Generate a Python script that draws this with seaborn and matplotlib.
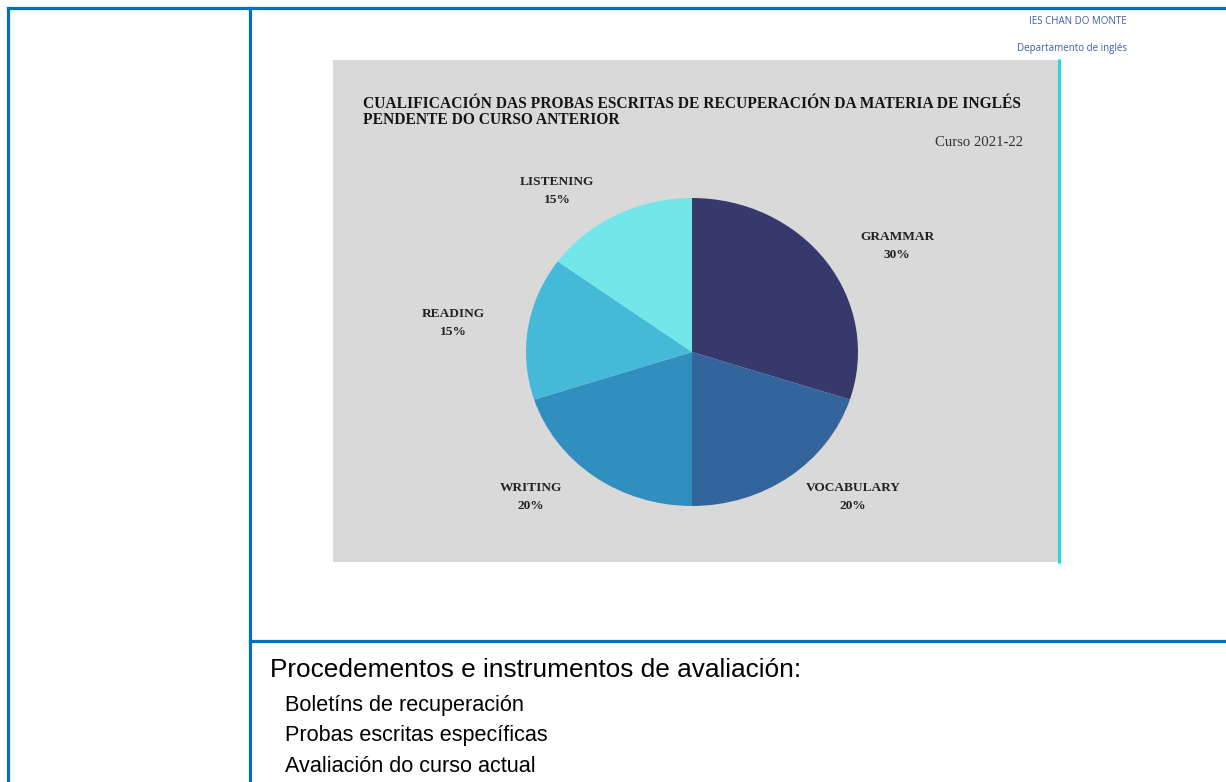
import matplotlib
matplotlib.use("Agg")
import matplotlib.pyplot as plt
import seaborn as sns
from matplotlib.patches import Rectangle
from matplotlib.lines import Line2D

# ---- data ----
categories = ["GRAMMAR", "VOCABULARY", "WRITING", "READING", "LISTENING"]
values = [30, 20, 20, 15, 15]
colors = ["#37396D", "#33649B", "#318FC0", "#45BAD8", "#73E6EA"]
title = "CUALIFICACIÓN DAS PROBAS ESCRITAS DE RECUPERACIÓN DA MATERIA DE INGLÉS\nPENDENTE DO CURSO ANTERIOR"
subtitle = "Curso 2021-22"
header_lines = ["IES CHAN DO MONTE", "Departamento de inglés"]
body_heading = "Procedementos e instrumentos de avaliación:"
body_items = ["Boletíns de recuperación", "Probas escritas específicas", "Avaliación do curso actual"]

# label positions (data coords relative to pie centre)
label_xy = [(1.235, 0.688), (0.97, -0.942), (-0.97, -0.942), (-1.44, 0.188), (-0.813, 1.045)]

sns.set_style("white")
plt.rcParams["font.family"] = ["DejaVu Sans"]

W, H = 1226, 782
fig = plt.figure(figsize=(W / 100, H / 100), dpi=100)
fig.patch.set_facecolor("white")

def fx(x):
    return x / W

def fy(y):
    return 1 - y / H

blue = "#0070C0"
lw = 2.3
for (x0, y0, x1, y1) in [(8, 8, W, 8), (8, 8, 8, H), (250, 8, 250, H), (250, 641, W, 641)]:
    fig.add_artist(Line2D([fx(x0), fx(x1)], [fy(y0), fy(y1)], color=blue, lw=lw,
                          transform=fig.transFigure, solid_capstyle="projecting"))

# header
fig.text(fx(1127), fy(22), header_lines[0], ha="right", va="center", fontsize=7,
         family="Open Sans", color="#3A5FA8")
fig.text(fx(1127), fy(48), header_lines[1], ha="right", va="center", fontsize=7,
         family="Open Sans", color="#3A5FA8")

# chart background
bg = Rectangle((fx(333), fy(562)), fx(1058) - fx(333), fy(60) - fy(562),
               transform=fig.transFigure, facecolor="#D9D9D9", edgecolor="none", zorder=-1)
fig.add_artist(bg)
fig.add_artist(Line2D([fx(1059), fx(1059)], [fy(60), fy(562)], color="#2CD8E0", lw=2.2,
                      transform=fig.transFigure))

fig.text(fx(363), fy(112), title, ha="left", va="center", fontsize=11.2,
         family="Liberation Serif", fontweight="bold", color="#141414", linespacing=0.98)
fig.text(fx(1023), fy(142), subtitle, ha="right", va="center", fontsize=10.6,
         family="Liberation Serif", color="#333333")

# pie axes
cx, cy, rx, ry = 692, 352, 166, 154
ax = fig.add_axes([fx(cx - rx), fy(cy + ry), (2 * rx) / W, (2 * ry) / H])
ax.set_zorder(3)
ax.patch.set_alpha(0)
ax.pie(values, colors=colors, startangle=90, counterclock=False,
       wedgeprops=dict(linewidth=0), radius=1)
ax.set_aspect("auto")
ax.set_xlim(-1, 1)
ax.set_ylim(-1, 1)
ax.axis("off")

for cat, v, (lx, ly) in zip(categories, values, label_xy):
    ax.text(lx, ly, f"{cat}\n{v}%", ha="center", va="center", fontsize=9.6,
            family="Liberation Serif", fontweight="bold", color="#222222",
            linespacing=1.6, clip_on=False)

# body text
fig.text(fx(270), fy(670), body_heading, ha="left", va="center", fontsize=18.9,
         family="Liberation Sans", color="black")
for i, item in enumerate(body_items):
    fig.text(fx(285), fy(705 + i * 30.5), item, ha="left", va="center", fontsize=15.6,
             family="Liberation Sans", color="black")

fig.savefig("out.png", dpi=100)
